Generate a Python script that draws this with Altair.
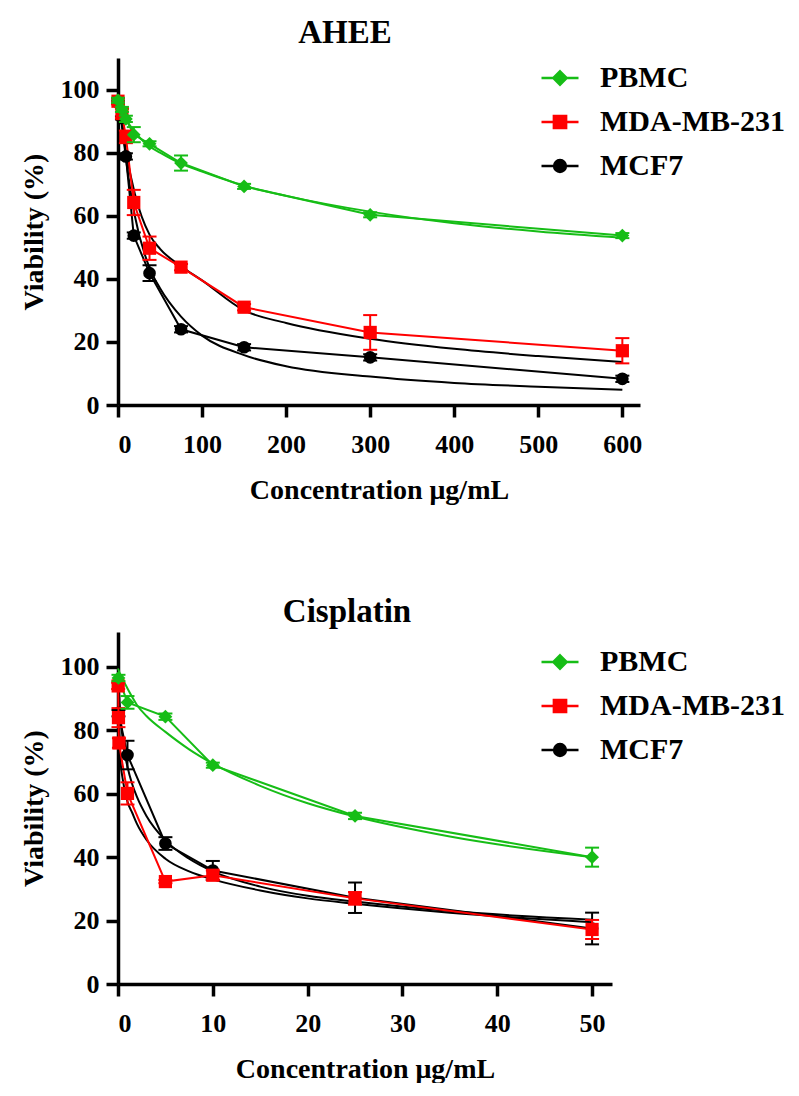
import altair as alt
import pandas as pd

FONT = "Liberation Serif"
GREEN = "#16bd16"
RED = "#ff0000"
BLACK = "#000000"
SERIES = ["PBMC", "MDA-MB-231", "MCF7"]

# ---------------- AHEE (top) ----------------
ahee_x = [0, 4.69, 9.375, 18.75, 37.5, 75, 150, 300, 600]
ahee_pbmc = [96.6, 93.7, 90.7, 85.7, 82.8, 76.7, 69.3, 60.3, 53.7]
ahee_pbmc_err = [0.8, 0.8, 1.0, 2.4, 0.8, 2.4, 0.8, 0.8, 0.8]
ahee_mda = [96.3, 92.4, 85.0, 64.2, 49.7, 43.7, 31.0, 23.0, 17.2]
ahee_mda_err = [1.0, 1.5, 2.0, 4.0, 3.7, 1.0, 1.0, 5.5, 4.0]
ahee_mcf7 = [96.0, 91.0, 78.8, 53.7, 41.8, 24.0, 18.3, 15.1, 8.3]
ahee_mcf7_err = [0.5, 0.5, 1.0, 1.0, 2.5, 1.0, 1.0, 1.0, 1.0]

ahee_fit_x = [0, 5, 10, 20, 37.5, 50, 75, 100, 150, 200, 300, 400, 500, 600]
ahee_fit_pbmc = [97.5, 93.5, 90.5, 86.5, 82.0, 80.0, 76.5, 74.0, 69.5, 66.3, 61.3, 57.6, 55.0, 53.0]
ahee_fit_mda = [98.0, 88.0, 79.5, 67.0, 54.0, 49.5, 44.0, 39.5, 30.0, 26.0, 21.0, 17.8, 15.5, 13.6]
ahee_fit_mcf7 = [100.0, 88.0, 77.0, 60.0, 43.5, 37.0, 28.0, 22.0, 15.8, 12.3, 9.0, 7.0, 5.8, 4.8]

# ---------------- Cisplatin (bottom) ----------------
cis_pbmc_x = [0.05, 1, 5, 10, 25, 50]
cis_pbmc = [96.5, 88.8, 84.3, 69.0, 53.0, 40.0]
cis_pbmc_err = [1.0, 2.0, 1.0, 0.8, 1.0, 3.0]
cis_mda_x = [0.02, 0.05, 0.1, 1, 5, 10, 25, 50]
cis_mda = [94.0, 84.0, 76.0, 60.1, 32.3, 34.3, 27.0, 17.2]
cis_mda_err = [1.0, 3.0, 1.5, 3.5, 0.5, 1.5, 2.0, 3.0]
cis_mcf7_x = [0.05, 1, 5, 10, 25, 50]
cis_mcf7 = [85.4, 72.2, 44.3, 35.8, 27.2, 17.5]
cis_mcf7_err = [1.0, 4.5, 2.0, 3.0, 4.8, 5.0]

cis_fit_x = [0, 0.25, 0.5, 1, 1.5, 2, 3, 5, 7.5, 10, 15, 20, 25, 35, 50]
cis_fit_pbmc = [99.5, 97.5, 96.0, 93.2, 90.5, 88.0, 84.5, 79.5, 74.0, 69.5, 62.5, 57.0, 52.8, 46.5, 40.0]
cis_fit_mda = [97.0, 71.0, 64.5, 57.5, 54.0, 50.5, 45.5, 39.5, 35.5, 33.0, 29.5, 27.0, 25.3, 22.5, 19.5]
cis_fit_mcf7 = [98.0, 85.0, 77.0, 68.5, 63.0, 59.0, 53.0, 45.3, 39.5, 35.5, 30.7, 27.8, 26.0, 23.0, 20.3]

COLORS = {"PBMC": GREEN, "MDA-MB-231": RED, "MCF7": BLACK}
FITCOLORS = {"PBMC": GREEN, "MDA-MB-231": BLACK, "MCF7": BLACK}
SHAPES = {"PBMC": "diamond", "MDA-MB-231": "square", "MCF7": "circle"}
SIZES = {"PBMC": 190, "MDA-MB-231": 175, "MCF7": 160}
LEGEND_PATHS = [
    "M-1,0L1,0M0,-0.36L0.36,0L0,0.36L-0.36,0Z",
    "M-1,0L1,0M-0.33,-0.33L0.33,-0.33L0.33,0.33L-0.33,0.33Z",
    "M-1,0L1,0M-0.32,0A0.32,0.32 0 1,0 0.32,0A0.32,0.32 0 1,0 -0.32,0Z",
]


def points_df(series_data):
    rows = []
    for s, xs, ys, es in series_data:
        for x, y, e in zip(xs, ys, es):
            rows.append({"series": s, "x": x, "y": y, "lo": y - e, "hi": y + e})
    return pd.DataFrame(rows)


def fits_df(xs, series_fits):
    rows = []
    for s, ys in series_fits:
        for x, y in zip(xs, ys):
            rows.append({"series": s, "x": x, "y": y})
    return pd.DataFrame(rows)


def panel(pts, fits, title, xmax, ymax, xticks, w, h, title_dx, title_offset, legend_y):
    X = alt.X("x:Q", scale=alt.Scale(domain=[0, xmax], nice=False, zero=False),
              axis=alt.Axis(values=xticks, title="Concentration μg/mL"))
    Y = alt.Y("y:Q", scale=alt.Scale(domain=[0, ymax], nice=False),
              axis=alt.Axis(values=[0, 20, 40, 60, 80, 100], title="Viability (%)"))
    layers = []
    order = ["MCF7", "MDA-MB-231", "PBMC"]
    for s in order:
        layers.append(
            alt.Chart(fits).transform_filter(alt.datum.series == s)
            .mark_line(color=FITCOLORS[s], strokeWidth=2, interpolate="monotone")
            .encode(x=X, y=Y)
        )
    for s in order:
        layers.append(
            alt.Chart(pts).transform_filter(alt.datum.series == s)
            .mark_line(color=COLORS[s], strokeWidth=2)
            .encode(x=X, y=Y)
        )
    for s in order:
        sub = alt.Chart(pts).transform_filter(alt.datum.series == s)
        layers.append(sub.mark_rule(color=COLORS[s], strokeWidth=2)
                      .encode(x=X, y=alt.Y("lo:Q"), y2="hi:Q"))
        layers.append(sub.mark_tick(color=COLORS[s], thickness=2, size=14, orient="horizontal", opacity=1)
                      .encode(x=X, y=alt.Y("lo:Q")))
        layers.append(sub.mark_tick(color=COLORS[s], thickness=2, size=14, orient="horizontal", opacity=1)
                      .encode(x=X, y=alt.Y("hi:Q")))
        layers.append(sub.mark_point(shape=SHAPES[s], filled=True, color=COLORS[s],
                                     size=SIZES[s], opacity=1)
                      .encode(x=X, y=Y))
    leg = alt.Legend(title=None, orient="none", legendX=422, legendY=legend_y,
                     symbolSize=1369, symbolStrokeWidth=2.5, labelFont=FONT,
                     labelFontSize=30, labelFontWeight="bold", labelColor="black",
                     labelOffset=20, labelLimit=0, rowPadding=9, padding=0, symbolOpacity=1)
    layers.append(
        alt.Chart(pts).transform_filter("false")
        .mark_point(filled=True, opacity=1)
        .encode(
            x=X, y=Y,
            fill=alt.Fill("series:N", scale=alt.Scale(domain=SERIES, range=[GREEN, RED, BLACK]), legend=leg),
            stroke=alt.Stroke("series:N", scale=alt.Scale(domain=SERIES, range=[GREEN, RED, BLACK]), legend=leg),
            shape=alt.Shape("series:N", scale=alt.Scale(domain=SERIES, range=LEGEND_PATHS), legend=leg),
        )
    )
    return alt.layer(*layers).properties(
        width=w, height=h,
        title=alt.TitleParams(title, font=FONT, fontSize=33, fontWeight="bold",
                              anchor="middle", dx=title_dx, offset=title_offset, color="black"),
    )


top_pts = points_df([
    ("PBMC", ahee_x, ahee_pbmc, ahee_pbmc_err),
    ("MDA-MB-231", ahee_x, ahee_mda, ahee_mda_err),
    ("MCF7", ahee_x, ahee_mcf7, ahee_mcf7_err),
])
top_fits = fits_df(ahee_fit_x, [("PBMC", ahee_fit_pbmc), ("MDA-MB-231", ahee_fit_mda), ("MCF7", ahee_fit_mcf7)])

bot_pts = points_df([
    ("PBMC", cis_pbmc_x, cis_pbmc, cis_pbmc_err),
    ("MDA-MB-231", cis_mda_x, cis_mda, cis_mda_err),
    ("MCF7", cis_mcf7_x, cis_mcf7, cis_mcf7_err),
])
bot_fits = fits_df(cis_fit_x, [("PBMC", cis_fit_pbmc), ("MDA-MB-231", cis_fit_mda), ("MCF7", cis_fit_mcf7)])

top = panel(top_pts, top_fits, "AHEE", 621, 110, [0, 100, 200, 300, 400, 500, 600], 522, 347, -34, 8, 0)
bottom = panel(bot_pts, bot_fits, "Cisplatin", 52.1, 111, [0, 10, 20, 30, 40, 50], 494, 352, -18, 3, 10)

chart = alt.vconcat(top, bottom, spacing=92).resolve_scale(
    x="independent", y="independent", fill="independent", stroke="independent", shape="independent"
).properties(padding={"left": 12, "top": 9, "right": 5, "bottom": 0}).configure_view(stroke=None).configure_axis(
    domainWidth=3.5, domainColor="black", tickWidth=3.5, tickColor="black", tickSize=12,
    labelFont=FONT, labelFontSize=26, labelFontWeight="bold", labelColor="black", labelPadding=7,
    titleFont=FONT, titleFontSize=28, titleFontWeight="bold", titleColor="black",
    grid=False,
).configure_axisX(titlePadding=19, labelPadding=14).configure_axisY(titlePadding=12)

chart.save("out.html", embed_options={"renderer": "svg", "actions": False})
